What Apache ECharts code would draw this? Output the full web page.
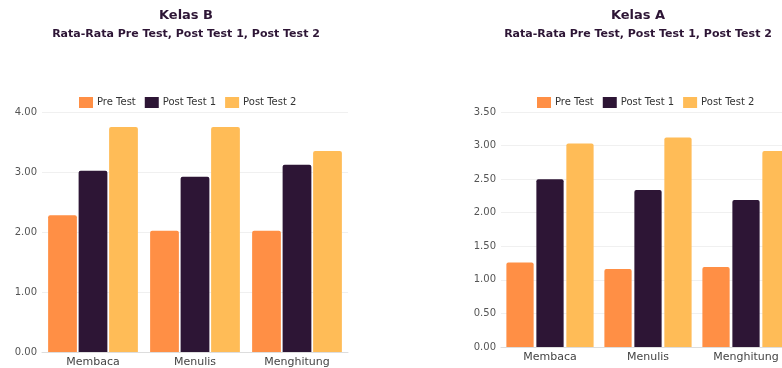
<!DOCTYPE html>
<html>
<head>
<meta charset="utf-8">
<style>
  html, body { margin: 0; padding: 0; background: #fff; overflow: hidden; }
  #chart { width: 800px; height: 368px; }
</style>
<script src="https://cdn.jsdelivr.net/npm/echarts@6/dist/echarts.min.js"></script>
</head>
<body>
<div id="chart"></div>
<script>
const categories = ["Membaca", "Menulis", "Menghitung"];
const seriesNames = ["Pre Test", "Post Test 1", "Post Test 2"];

// Kelas B
const kelasBPre = [2.28, 2.02, 2.02];
const kelasBPost1 = [3.02, 2.92, 3.12];
const kelasBPost2 = [3.75, 3.75, 3.35];

// Kelas A
const kelasAPre = [1.26, 1.16, 1.19];
const kelasAPost1 = [2.5, 2.34, 2.19];
const kelasAPost2 = [3.03, 3.12, 2.92];

const colors = ["#ff8f45", "#2d1535", "#ffbc57"];
const dark = "#2d1535";
const font = "DejaVu Sans";

// the right chart runs past the window edge in the reference, so the canvas is wider than the page
const chart = echarts.init(document.getElementById("chart"));

function titleAt(x, text) {
  return {
    text: text,
    subtext: "Rata-Rata Pre Test, Post Test 1, Post Test 2",
    left: x,
    top: 9,
    padding: 0,
    textAlign: "center",
    itemGap: 7,
    textStyle: { fontFamily: font, fontSize: 13, fontWeight: "bold", color: dark },
    subtextStyle: { fontFamily: font, fontSize: 11, fontWeight: "bold", color: dark },
  };
}

function legendAt(x) {
  return {
    data: seriesNames,
    left: x,
    top: 97,
    padding: 0,
    itemWidth: 14,
    itemHeight: 11,
    itemGap: 9,
    icon: "rect",
    textStyle: { fontFamily: font, fontSize: 10, color: "#333", padding: [0, 0, 0, -1] },
  };
}

function xAxisFor(grid) {
  return {
    type: "category",
    gridIndex: grid,
    data: categories,
    axisTick: { show: false },
    axisLine: { lineStyle: { color: "#ddd" } },
    axisLabel: { fontFamily: font, fontSize: 11, color: "#444", margin: 5 },
  };
}

function yAxisFor(grid, max, interval) {
  return {
    type: "value",
    gridIndex: grid,
    min: 0,
    max: max,
    interval: interval,
    axisLabel: {
      fontFamily: font,
      fontSize: 10,
      color: "#555",
      margin: 5,
      formatter: (v) => v.toFixed(2),
    },
    splitLine: { lineStyle: { color: "#f0f0f0" } },
  };
}

function bars(name, data, idx, grid, gap, catGap) {
  return {
    name: name,
    type: "bar",
    xAxisIndex: grid,
    yAxisIndex: grid,
    data: data,
    barGap: gap,
    barCategoryGap: catGap,
    itemStyle: { color: colors[idx], borderRadius: [2, 2, 0, 0] },
  };
}

chart.setOption({
  animation: false,
  color: colors,
  title: [titleAt(186, "Kelas B"), titleAt(638, "Kelas A")],
  legend: [legendAt(79), legendAt(537)],
  grid: [
    { left: 42, top: 112, width: 306, bottom: 16 },
    { left: 501, top: 112, width: 294, bottom: 21 },
  ],
  xAxis: [xAxisFor(0), xAxisFor(1)],
  yAxis: [yAxisFor(0, 4, 1), yAxisFor(1, 3.5, 0.5)],
  series: [
    bars(seriesNames[0], kelasBPre, 0, 0, "6%", "12%"),
    bars(seriesNames[1], kelasBPost1, 1, 0, "6%", "12%"),
    bars(seriesNames[2], kelasBPost2, 2, 0, "6%", "12%"),
    bars(seriesNames[0], kelasAPre, 0, 1, "10%", "11%"),
    bars(seriesNames[1], kelasAPost1, 1, 1, "10%", "11%"),
    bars(seriesNames[2], kelasAPost2, 2, 1, "10%", "11%"),
  ],
});
</script>
</body>
</html>
